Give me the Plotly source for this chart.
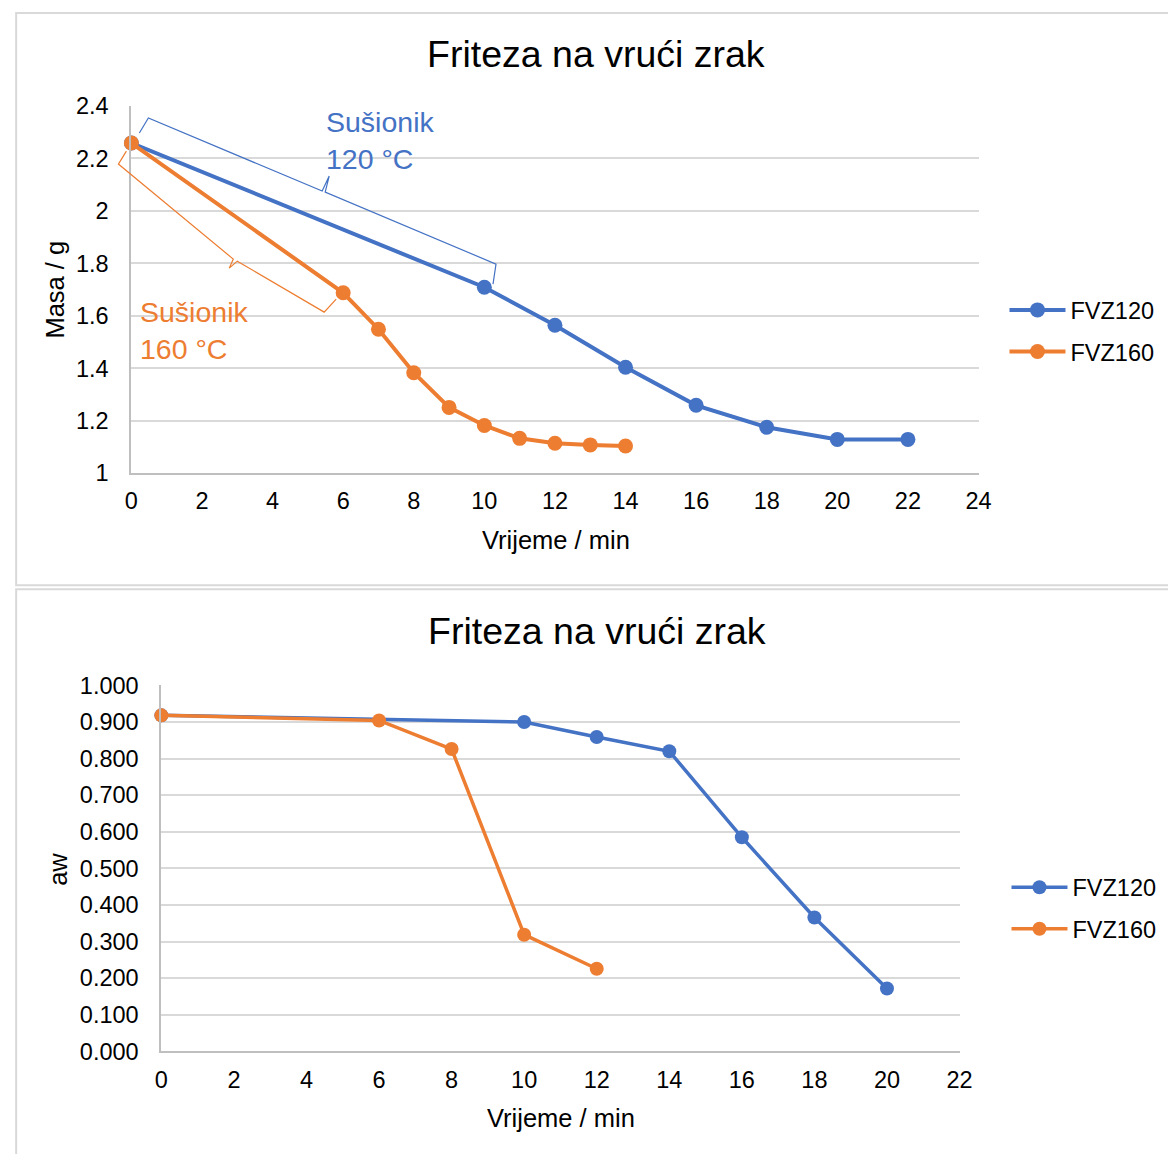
import plotly.graph_objects as go

FW, FH = 1176, 1154
# empirical mapping from figure pixels to the photographed picture
SX, AX = 0.984, 13.5
SY, AY = 0.977, 20.0

# ---------------- data ----------------
t120_mass = [0, 10, 12, 14, 16, 18, 20, 22]
m120 = [2.259, 1.709, 1.564, 1.404, 1.259, 1.175, 1.129, 1.129]
t160_mass = [0, 6, 7, 8, 9, 10, 11, 12, 13, 14]
m160 = [2.259, 1.688, 1.549, 1.383, 1.251, 1.182, 1.133, 1.114, 1.108, 1.104]

t120_aw = [0, 10, 12, 14, 16, 18, 20]
aw120 = [0.918, 0.900, 0.859, 0.820, 0.585, 0.366, 0.172]
t160_aw = [0, 6, 8, 10, 12]
aw160 = [0.918, 0.904, 0.826, 0.319, 0.226]

series_names = ["FVZ120", "FVZ160"]
title_text = "Friteza na vrući zrak"
xlabel = "Vrijeme / min"
ylabel_top = "Masa / g"
ylabel_bot = "aw"
top_x_ticks = list(range(0, 25, 2))
top_y_ticks = [1, 1.2, 1.4, 1.6, 1.8, 2, 2.2, 2.4]
bot_x_ticks = list(range(0, 23, 2))
bot_y_ticks = [round(0.1 * i, 1) for i in range(11)]

BLUE = "#4472C4"
ORANGE = "#ED7D31"
FONT = "Liberation Sans, Arial, sans-serif"
GRID = "#d9d9d9"
AXL = "#bfbfbf"


def fx(px):
    return ((px - AX) / SX) / FW


def fy(py):
    return 1 - ((py - AY) / SY) / FH


fig = go.Figure()

line_w = 4
msize = 15

fig.add_trace(go.Scatter(x=t120_mass, y=m120, name=series_names[0], mode="lines+markers",
                         line=dict(color=BLUE, width=line_w), marker=dict(size=msize, color=BLUE),
                         cliponaxis=False,
                         xaxis="x", yaxis="y", legend="legend", legendgroup="a"))
fig.add_trace(go.Scatter(x=t160_mass, y=m160, name=series_names[1], mode="lines+markers",
                         line=dict(color=ORANGE, width=line_w), marker=dict(size=msize, color=ORANGE),
                         cliponaxis=False,
                         xaxis="x", yaxis="y", legend="legend", legendgroup="b"))
fig.add_trace(go.Scatter(x=t120_aw, y=aw120, name=series_names[0], mode="lines+markers",
                         line=dict(color=BLUE, width=line_w - 0.5), marker=dict(size=msize - 1, color=BLUE),
                         cliponaxis=False,
                         xaxis="x2", yaxis="y2", legend="legend2", legendgroup="c"))
fig.add_trace(go.Scatter(x=t160_aw, y=aw160, name=series_names[1], mode="lines+markers",
                         line=dict(color=ORANGE, width=line_w - 0.5), marker=dict(size=msize - 1, color=ORANGE),
                         cliponaxis=False,
                         xaxis="x2", yaxis="y2", legend="legend2", legendgroup="d"))

tickfont = dict(family=FONT, size=23.5, color="#000000")

common_x = dict(showgrid=False, zeroline=False, showline=True, linecolor=AXL, linewidth=2,
                ticks="outside", ticklen=6, tickcolor="rgba(0,0,0,0)", tickfont=tickfont)
common_y = dict(showgrid=True, gridcolor=GRID, gridwidth=2, zeroline=False, showline=True,
                linecolor=AXL, linewidth=2, ticks="outside", ticklen=16,
                tickcolor="rgba(0,0,0,0)", tickfont=tickfont)

legfont = dict(family=FONT, size=23.5, color="#000000")

fig.update_layout(
    width=FW, height=FH,
    margin=dict(l=0, r=0, t=0, b=0),
    paper_bgcolor="white", plot_bgcolor="white",
    font=dict(family=FONT, color="#000000"),
    xaxis=dict(domain=[fx(130), fx(978)], range=[0, 24], tickvals=top_x_ticks, anchor="y", **common_x),
    yaxis=dict(domain=[fy(472), fy(105)], range=[1, 2.4], tickvals=top_y_ticks, anchor="x", **common_y),
    xaxis2=dict(domain=[fx(160), fx(959)], range=[0, 22], tickvals=bot_x_ticks, anchor="y2", **common_x),
    yaxis2=dict(domain=[fy(1050), fy(684)], range=[0, 1], tickvals=bot_y_ticks, tickformat=".3f",
                anchor="x2", **common_y),
    legend=dict(x=fx(1004), y=fy(287), xanchor="left", yanchor="top", bgcolor="rgba(0,0,0,0)",
                font=legfont, itemwidth=56, traceorder="grouped", tracegroupgap=8),
    legend2=dict(x=fx(1006), y=fy(864), xanchor="left", yanchor="top", bgcolor="rgba(0,0,0,0)",
                 font=legfont, itemwidth=56, traceorder="grouped", tracegroupgap=8),
    showlegend=True,
)

# panel frames
fig.add_shape(type="rect", xref="paper", yref="paper", x0=0.001, x1=1.02, y0=fy(584), y1=fy(12),
              line=dict(color=GRID, width=2), layer="below")
fig.add_shape(type="rect", xref="paper", yref="paper", x0=0.001, x1=1.02, y0=-0.02, y1=fy(588),
              line=dict(color=GRID, width=2), layer="below")


def path_from(points):
    s = "M {} {}".format(fx(points[0][0]), fy(points[0][1]))
    for p in points[1:]:
        s += " L {} {}".format(fx(p[0]), fy(p[1]))
    return s


blue_br = [(138, 132), (147, 117), (321, 190), (328, 175), (324, 191), (495, 263), (492, 283)]
orange_br = [(125, 150), (117, 163), (232, 258), (228, 267), (236, 260), (323, 311), (335, 298)]
fig.add_shape(type="path", xref="paper", yref="paper", path=path_from(blue_br),
              line=dict(color=BLUE, width=1.2))
fig.add_shape(type="path", xref="paper", yref="paper", path=path_from(orange_br),
              line=dict(color=ORANGE, width=1.2))

ann = []
ann.append(dict(text=title_text, x=fx(595), y=fy(53), xref="paper", yref="paper", showarrow=False,
                font=dict(family=FONT, size=37.5, color="#000000"), xanchor="center", yanchor="middle"))
ann.append(dict(text=title_text, x=fx(596), y=fy(630), xref="paper", yref="paper", showarrow=False,
                font=dict(family=FONT, size=37.5, color="#000000"), xanchor="center", yanchor="middle"))
ann.append(dict(text=xlabel, x=fx(555), y=fy(539), xref="paper", yref="paper", showarrow=False,
                font=dict(family=FONT, size=25.5, color="#000000"), xanchor="center", yanchor="middle"))
ann.append(dict(text=xlabel, x=fx(560), y=fy(1116), xref="paper", yref="paper", showarrow=False,
                font=dict(family=FONT, size=25.5, color="#000000"), xanchor="center", yanchor="middle"))
ann.append(dict(text=ylabel_top, x=fx(54), y=fy(288), xref="paper", yref="paper", showarrow=False,
                textangle=-90, font=dict(family=FONT, size=25.5, color="#000000"),
                xanchor="center", yanchor="middle"))
ann.append(dict(text=ylabel_bot, x=fx(57), y=fy(868), xref="paper", yref="paper", showarrow=False,
                textangle=-90, font=dict(family=FONT, size=25.5, color="#000000"),
                xanchor="center", yanchor="middle"))
ann.append(dict(text="Sušionik<br>120 °C", x=fx(323), y=fy(139), xref="paper", yref="paper",
                showarrow=False, align="left", font=dict(family=FONT, size=28.5, color=BLUE),
                xanchor="left", yanchor="middle"))
ann.append(dict(text="Sušionik<br>160 °C", x=fx(137), y=fy(329), xref="paper", yref="paper",
                showarrow=False, align="left", font=dict(family=FONT, size=28.5, color=ORANGE),
                xanchor="left", yanchor="middle"))
fig.update_layout(annotations=ann)

fig.write_html("out.html")
